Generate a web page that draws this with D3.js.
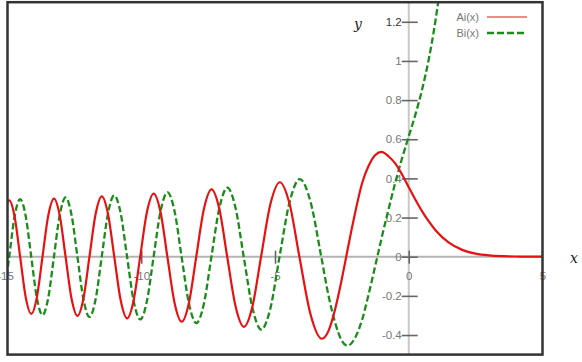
<!DOCTYPE html>
<html><head><meta charset="utf-8">
<script src="https://cdn.jsdelivr.net/npm/d3@7"></script>
<style>body{margin:0;background:#fff}svg{display:block}</style>
</head><body>
<svg id="c" width="582" height="362"></svg>
<script>
// Airy function Ai(x): points (zeros, extrema, half-way points, tail)
const aiX = [-15.341, -15.138, -14.935, -14.732, -14.528, -14.320, -14.111, -13.901, -13.691, -13.477, -13.262, -13.046,
  -12.829, -12.607, -12.385, -12.161, -11.936, -11.706, -11.475, -11.242, -11.009, -10.769, -10.528, -10.284,
  -10.040, -9.788, -9.535, -9.279, -9.023, -8.756, -8.488, -8.216, -7.944, -7.658, -7.372, -7.080,
  -6.787, -6.475, -6.163, -5.842, -5.521, -5.171, -4.820, -4.454, -4.088, -3.668, -3.248, -3.0, -2.75, -2.5,
  -2.338, -2.2, -2.0, -1.75, -1.5, -1.25, -1.019, -0.75, -0.5, -0.25, 0, 0.25, 0.5, 0.75, 1, 1.5, 2, 2.5, 3, 3.5, 4, 4.5, 5];
const aiY = [0, 0.2034, 0.2877, 0.2034, 0, -0.2064, -0.2920, -0.2064, 0, 0.2098, 0.2967, 0.2098,
  0, -0.2135, -0.3020, -0.2135, 0, 0.2178, 0.3080, 0.2178, 0, -0.2226, -0.3148, -0.2226,
  0, 0.2282, 0.3227, 0.2282, 0, -0.2347, -0.3320, -0.2347, 0, 0.2431, 0.3438, 0.2431,
  0, -0.2530, -0.3579, -0.2530, 0, 0.2690, 0.3804, 0.2690, 0, -0.2963, -0.4190, -0.3788, -0.267, -0.113,
  0, 0.096, 0.2274, 0.373, 0.4642, 0.520, 0.5357, 0.512, 0.4757, 0.420, 0.3550, 0.291, 0.2317, 0.180, 0.1353, 0.0717, 0.0349, 0.0157, 0.0066, 0.0026, 0.00095, 0.00033, 0.0001];
// Airy function Bi(x)
const biX = [-15.340, -15.138, -14.936, -14.732, -14.528, -14.320, -14.113, -13.902, -13.691, -13.477, -13.264, -13.046,
  -12.829, -12.607, -12.386, -12.161, -11.936, -11.706, -11.477, -11.242, -11.008, -10.769, -10.530, -10.284,
  -10.038, -9.788, -9.538, -9.278, -9.019, -8.755, -8.492, -8.216, -7.940, -7.658, -7.377, -7.079,
  -6.781, -6.475, -6.170, -5.841, -5.512, -5.171, -4.831, -4.452, -4.073, -3.672, -3.271, -3.0, -2.75, -2.5,
  -2.294, -2.0, -1.75, -1.5, -1.174, -1.0, -0.75, -0.5, -0.25, 0, 0.25, 0.5, 0.75, 1, 1.25, 1.5];
const biY = [-0.2905, -0.2054, 0, 0.2079, 0.2941, 0.2079, 0, -0.2108, -0.2981, -0.2108, 0, 0.2139,
  0.3025, 0.2139, 0, -0.2175, -0.3077, -0.2175, 0, 0.2216, 0.3135, 0.2216, 0, -0.2266,
  -0.3205, -0.2266, 0, 0.2325, 0.3288, 0.2325, 0, -0.2398, -0.3392, -0.2398, 0, 0.2493,
  0.3526, 0.2493, 0, -0.2630, -0.3720, -0.2630, 0, 0.2803, 0.3965, 0.2803, 0, -0.1983, -0.338, -0.430,
  -0.4549, -0.4123, -0.325, -0.1918, 0, 0.1040, 0.245, 0.3804, 0.503, 0.6149, 0.727, 0.8544, 1.01, 1.2074, 1.47, 1.8789];

const xTicks = [-15, -10, -5, 0, 5];
const xTickLabels = ["-15", "-10", "-5", "0", "5"];
const yTicks = [-0.4, -0.2, 0, 0.2, 0.4, 0.6, 0.8, 1, 1.2];
const yTickLabels = ["-0.4", "-0.2", "0", "0.2", "0.4", "0.6", "0.8", "1", "1.2"];
const seriesNames = ["Ai(x)", "Bi(x)"];

const L = 7.5, R = 542.5, T = 2.2, B = 354.6;
const x = d3.scaleLinear().domain([-15, 5]).range([L, R]);
const y = d3.scaleLinear().domain([-0.5, 1.3]).range([B, T]);
const svg = d3.select("#c");
const FONT = "Liberation Sans, Arial, sans-serif";

svg.append("defs").append("clipPath").attr("id", "clip")
  .append("rect").attr("x", L).attr("y", T).attr("width", R - L).attr("height", B - T);

// grey axis lines
svg.append("line").attr("x1", L).attr("x2", R).attr("y1", y(0)).attr("y2", y(0))
  .attr("stroke", "#b4b4b4").attr("stroke-width", 2);
svg.append("line").attr("x1", x(0)).attr("x2", x(0)).attr("y1", T).attr("y2", B)
  .attr("stroke", "#c8c8c8").attr("stroke-width", 2);

// y ticks via d3 axis
const yAxis = d3.axisLeft(y).tickValues(yTicks).tickSize(0).tickPadding(8)
  .tickFormat((d, i) => yTickLabels[i]);
const gy = svg.append("g").attr("transform", `translate(${x(0)},0)`).call(yAxis);
gy.select(".domain").remove();
gy.selectAll(".tick").append("line").attr("x1", -7).attr("x2", 9)
  .attr("stroke", "#666").attr("stroke-width", 1.6);
gy.selectAll("text").attr("fill", d => d === 1.2 ? "#333" : "#777").attr("font-family", FONT)
  .attr("font-size", 11.5).attr("dx", 1);

// x ticks via d3 axis
const xAxis = d3.axisBottom(x).tickValues(xTicks).tickSize(0).tickPadding(21)
  .tickFormat((d, i) => xTickLabels[i]);
const gx = svg.append("g").attr("transform", `translate(0,${y(0)})`).call(xAxis);
gx.select(".domain").remove();
gx.selectAll(".tick").filter(d => d > -15 && d < 5).append("line")
  .attr("y1", -6).attr("y2", 7).attr("stroke", "#666").attr("stroke-width", 1.6);
gx.selectAll("text").attr("fill", "#777").attr("font-family", FONT)
  .attr("font-size", 11.5).attr("dy", "0.2em")
  .attr("dx", d => d === -15 ? -2.5 : 0);

// curves
const line = d3.line().x(d => x(d[0])).y(d => y(d[1])).curve(d3.curveMonotoneX);
const ai = aiX.map((v, i) => [v, aiY[i]]);
const bi = biX.map((v, i) => [v, biY[i]]);
const g = svg.append("g").attr("clip-path", "url(#clip)");
g.append("path").attr("d", line(bi)).attr("fill", "none").attr("stroke", "#1a8c1a")
  .attr("stroke-width", 2.3).attr("stroke-dasharray", "6.5,3");
g.append("path").attr("d", line(ai)).attr("fill", "none").attr("stroke", "#e81010")
  .attr("stroke-width", 2.2);

// frame
svg.append("rect").attr("x", L).attr("y", T).attr("width", R - L).attr("height", B - T)
  .attr("fill", "none").attr("stroke", "#333").attr("stroke-width", 2.5);

// axis names
svg.append("text").attr("x", 354).attr("y", 29).attr("font-family", "DejaVu Serif, serif")
  .attr("font-style", "italic").attr("font-size", 14).attr("fill", "#222").text("y");
svg.append("text").attr("x", 570).attr("y", 263).attr("font-family", "DejaVu Serif, serif")
  .attr("font-style", "italic").attr("font-size", 14).attr("fill", "#222").text("x");

// legend
const leg = svg.append("g");
const legColors = ["#e81010", "#1a8c1a"];
seriesNames.forEach((n, i) => {
  const yy = 17 + i * 16;
  leg.append("text").attr("x", 479).attr("y", yy + 4).attr("text-anchor", "end")
    .attr("font-family", FONT).attr("font-size", 11).attr("fill", "#777").text(n);
  leg.append("line").attr("x1", 487).attr("x2", 527).attr("y1", yy).attr("y2", yy)
    .attr("stroke", legColors[i]).attr("stroke-width", i ? 2.6 : 1.2)
    .attr("stroke-dasharray", i ? "7,3" : null);
});
</script>
</body></html>
